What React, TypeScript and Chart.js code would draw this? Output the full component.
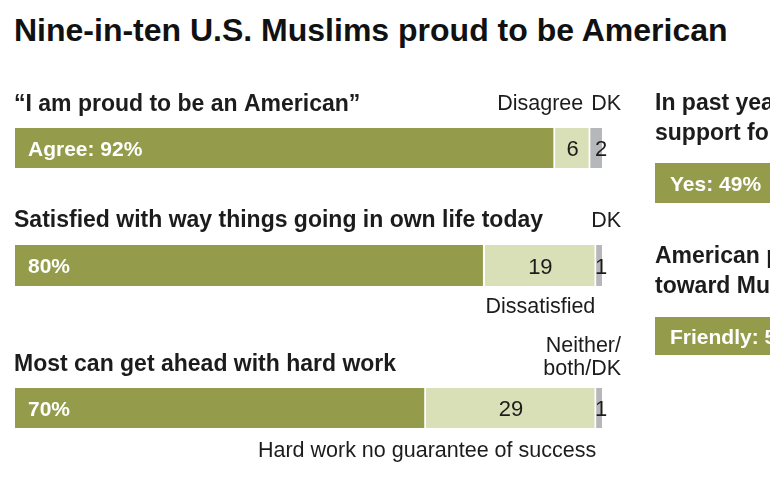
import React, { useEffect, useRef } from "react";
import { Chart, registerables } from "chart.js";

Chart.register(...registerables);

// ---------- data ----------
const TITLE = "Nine-in-ten U.S. Muslims proud to be American";

const questions = [
  "\u201cI am proud to be an American\u201d",
  "Satisfied with way things going in own life today",
  "Most can get ahead with hard work",
];
const mainPrefixes = ["Agree: ", "", ""];
const mainValues = [92, 80, 70];
const secondValues = [6, 19, 29];
const otherValues = [2, 1, 1];
const secondNames = ["Disagree", "Dissatisfied", "Hard work no guarantee of success"];
const otherNames = [["DK"], ["DK"], ["Neither/", "both/DK"]];

const sideQuestions = [
  ["In past year, someone expressed", "support for you because you are Muslim"],
  ["American people generally friendly", "toward Muslim Americans"],
];
const sidePrefixes = ["Yes: ", "Friendly: "];
const sideValues = [49, 55];

// ---------- styles ----------
const GREEN = "#949c4b";
const LIGHT = "#d9dfb6";
const GREY = "#b5b7bb";
const DARK = "#1c1c1c";
const FAM = "'Liberation Sans', Arial, sans-serif";
const HEAD_FONT = `bold 23px ${FAM}`;
const IN_FONT = `bold 21px ${FAM}`;
const VAL_FONT = `22px ${FAM}`;
const NAME_FONT = `21.5px ${FAM}`;

type Item = {
  text: string;
  font: string;
  color: string;
  align: CanvasTextAlign;
  ds: number;
  edge: "start" | "center" | "end";
  dx: number;
  vert: "top" | "center" | "bottom";
  dy: number;
};

const labelPlugin = {
  id: "pewLabels",
  afterDatasetsDraw(chart: any, _args: any, opts: any) {
    const items: Item[] = opts.items || [];
    const ctx = chart.ctx as CanvasRenderingContext2D;
    ctx.save();
    ctx.textBaseline = "alphabetic";
    items.forEach((it) => {
      const meta = chart.getDatasetMeta(it.ds);
      const el = meta && meta.data[0];
      if (!el) return;
      const p = el.getProps(["x", "base", "y", "height"], true);
      const x0 = Math.min(p.x, p.base);
      const x1 = Math.max(p.x, p.base);
      let x = it.edge === "start" ? x0 : it.edge === "end" ? x1 : (x0 + x1) / 2;
      x += it.dx;
      let y = it.vert === "top" ? p.y - p.height / 2 : it.vert === "bottom" ? p.y + p.height / 2 : p.y;
      y += it.dy;
      ctx.font = it.font;
      ctx.fillStyle = it.color;
      ctx.textAlign = it.align;
      ctx.fillText(it.text, x, y);
    });
    ctx.restore();
  },
};

type Layout = {
  left: number;
  top: number;
  width: number;
  height: number;
  pad: { left: number; right: number; top: number; bottom: number };
};

function StackBar(props: { layout: Layout; values: number[]; colors: string[]; items: Item[] }) {
  const ref = useRef<HTMLCanvasElement>(null);
  const { layout, values, colors, items } = props;
  useEffect(() => {
    const chart = new Chart(ref.current as HTMLCanvasElement, {
      type: "bar",
      data: {
        labels: [""],
        datasets: values.map((v, i) => ({
          data: [v],
          backgroundColor: colors[i],
          borderColor: "#ffffff",
          borderWidth: i < values.length - 1 ? { left: 0, right: 2, top: 0, bottom: 0 } : 0,
          borderSkipped: false,
          barPercentage: 1,
          categoryPercentage: 1,
        })),
      },
      options: {
        indexAxis: "y",
        responsive: false,
        maintainAspectRatio: false,
        animation: false,
        layout: { padding: layout.pad },
        scales: {
          x: { display: false, stacked: true, min: 0, max: 100 },
          y: { display: false, stacked: true },
        },
        plugins: {
          legend: { display: false },
          tooltip: { enabled: false },
          pewLabels: { items },
        } as any,
      },
      plugins: [labelPlugin],
    });
    return () => chart.destroy();
  }, []);
  return (
    <canvas
      ref={ref}
      width={layout.width}
      height={layout.height}
      style={{ position: "absolute", left: layout.left, top: layout.top, width: layout.width, height: layout.height }}
    />
  );
}

const leftLayouts: Layout[] = [
  { left: 0, top: 80, width: 640, height: 110, pad: { left: 15, right: 38, top: 48, bottom: 22 } },
  { left: 0, top: 195, width: 640, height: 125, pad: { left: 15, right: 38, top: 50, bottom: 34 } },
  { left: 0, top: 325, width: 640, height: 150, pad: { left: 15, right: 38, top: 63, bottom: 47 } },
];
const headGaps = [17, 18, 17];
const secondPlace: { edge: "center" | "end"; dx: number; vert: "top" | "bottom"; dy: number; align: CanvasTextAlign }[] = [
  { edge: "end", dx: -7, vert: "top", dy: -18, align: "right" },
  { edge: "center", dx: 0, vert: "bottom", dy: 27, align: "center" },
  { edge: "end", dx: 0, vert: "bottom", dy: 29, align: "right" },
];
const otherGaps = [[18], [18], [36, 13]];

const rightLayouts: Layout[] = [
  { left: 640, top: 80, width: 640, height: 130, pad: { left: 15, right: 38, top: 83, bottom: 7 } },
  { left: 640, top: 230, width: 640, height: 135, pad: { left: 15, right: 38, top: 87, bottom: 10 } },
];
const sideHeadGaps = [
  [53, 23],
  [54, 24],
];

function leftItems(i: number): Item[] {
  const sp = secondPlace[i];
  const list: Item[] = [
    { text: questions[i], font: HEAD_FONT, color: DARK, align: "left", ds: 0, edge: "start", dx: -1, vert: "top", dy: -headGaps[i] },
    { text: `${mainPrefixes[i]}${mainValues[i]}%`, font: IN_FONT, color: "#ffffff", align: "left", ds: 0, edge: "start", dx: 13, vert: "center", dy: 7.5 },
    { text: String(secondValues[i]), font: VAL_FONT, color: DARK, align: "center", ds: 1, edge: "center", dx: 0, vert: "center", dy: 8 },
    { text: String(otherValues[i]), font: VAL_FONT, color: DARK, align: "center", ds: 2, edge: "end", dx: -1, vert: "center", dy: 8 },
    { text: secondNames[i], font: NAME_FONT, color: DARK, align: sp.align, ds: 1, edge: sp.edge, dx: sp.dx, vert: sp.vert, dy: sp.dy },
  ];
  otherNames[i].forEach((line, k) => {
    list.push({ text: line, font: NAME_FONT, color: DARK, align: "right", ds: 2, edge: "end", dx: 19, vert: "top", dy: -otherGaps[i][k] });
  });
  return list;
}

function rightItems(j: number): Item[] {
  const list: Item[] = sideQuestions[j].map((line, k) => ({
    text: line, font: HEAD_FONT, color: DARK, align: "left" as CanvasTextAlign, ds: 0, edge: "start" as const, dx: 0, vert: "top" as const, dy: -sideHeadGaps[j][k],
  }));
  list.push({ text: `${sidePrefixes[j]}${sideValues[j]}%`, font: IN_FONT, color: "#ffffff", align: "left", ds: 0, edge: "start", dx: 15, vert: "center", dy: 7.5 });
  return list;
}

export default function App() {
  return (
    <div style={{ position: "absolute", left: 0, top: 0, width: 770, height: 480, overflow: "hidden", background: "#ffffff" }}>
      <div
        style={{
          position: "absolute",
          left: 14,
          top: 14,
          font: `bold 32px ${FAM}`,
          lineHeight: "32px",
          color: "#111111",
          whiteSpace: "nowrap",
        }}
      >
        {TITLE}
      </div>
      {leftLayouts.map((lay, i) => (
        <StackBar
          key={`l${i}`}
          layout={lay}
          values={[mainValues[i], secondValues[i], otherValues[i]]}
          colors={[GREEN, LIGHT, GREY]}
          items={leftItems(i)}
        />
      ))}
      {rightLayouts.map((lay, j) => (
        <StackBar key={`r${j}`} layout={lay} values={[sideValues[j]]} colors={[GREEN]} items={rightItems(j)} />
      ))}
    </div>
  );
}
